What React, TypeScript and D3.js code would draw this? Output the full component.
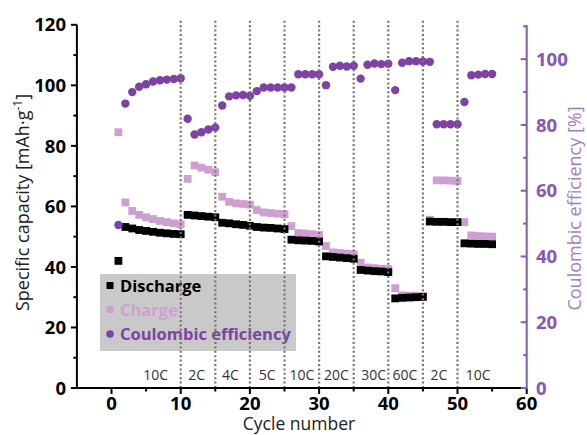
import React from 'react';
import * as d3 from 'd3';

const cycles = d3.range(1, 56);

const discharge = [
  42.0,
  53.2, 52.7, 52.2, 51.9, 51.6, 51.3, 51.1, 50.9, 50.8,
  57.2, 57.0, 56.8, 56.6, 56.4,
  54.6, 54.4, 54.1, 53.9, 53.6,
  53.2, 53.0, 52.9, 52.7, 52.5,
  49.0, 48.8, 48.7, 48.6, 48.4,
  43.5, 43.3, 43.1, 42.9, 42.7,
  39.0, 38.8, 38.6, 38.5, 38.3,
  29.6, 29.8, 29.9, 30.0, 30.1,
  55.0, 54.9, 54.9, 54.8, 54.8,
  47.8, 47.7, 47.6, 47.6, 47.5,
];

const charge = [
  84.5,
  61.3, 58.5, 57.2, 56.4, 55.8, 55.2, 54.8, 54.4, 54.1,
  69.1, 73.5, 72.8, 72.1, 71.3,
  63.2, 61.5, 61.0, 60.8, 60.6,
  58.8, 58.0, 57.8, 57.6, 57.4,
  53.5, 51.2, 51.0, 50.8, 50.6,
  46.9, 44.8, 44.6, 44.4, 44.2,
  41.4, 39.8, 39.6, 39.4, 39.3,
  33.0, 30.6, 30.5, 30.5, 30.4,
  55.6, 68.6, 68.6, 68.5, 68.4,
  54.8, 50.4, 50.2, 50.1, 50.0,
];

const efficiency = [
  49.6,
  86.5, 90.0, 91.6, 92.4, 93.2, 93.6, 93.8, 94.0, 94.2,
  81.9, 77.1, 77.8, 78.6, 79.2,
  85.9, 88.7, 89.0, 89.1, 88.9,
  90.3, 91.4, 91.4, 91.4, 91.4,
  91.4, 95.4, 95.4, 95.4, 95.4,
  92.1, 97.7, 98.0, 97.8, 98.0,
  94.1, 98.3, 98.7, 98.5, 98.6,
  90.6, 98.9, 99.4, 99.4, 99.3,
  99.2, 80.2, 80.2, 80.2, 80.2,
  87.0, 95.1, 95.3, 95.5, 95.5,
];

const rateBoundaries = [10, 15, 20, 25, 30, 35, 40, 45, 50];
const rateLabels = ['10C', '2C', '4C', '5C', '10C', '20C', '30C', '60C', '2C', '10C'];
const rateLabelAt = [6.4, 12.3, 17.2, 22.5, 27.5, 32.5, 37.9, 42.4, 47.3, 53.0];

const xTicks = [0, 10, 20, 30, 40, 50, 60];
const xMinor = [5, 15, 25, 35, 45, 55];
const yLeftTicks = [0, 20, 40, 60, 80, 100, 120];
const yLeftMinor = [10, 30, 50, 70, 90, 110];
const yRightTicks = [0, 20, 40, 60, 80, 100];
const yRightMinor = [10, 30, 50, 70, 90, 110];

const FONT = "'Open Sans', sans-serif";
const PINK = '#d09fd2';
const PURPLE = '#7e42a6';
const AXIS_PURPLE = '#8a55b8';

export default function App() {
  const width = 587;
  const height = 435;

  const x = d3.scaleLinear().domain([-5, 60]).range([76.9, 526.7]);
  const yL = d3.scaleLinear().domain([0, 120]).range([388, 24.8]);
  const yR = d3.scaleLinear().domain([0, 110.4]).range([388, 25]);

  const x0 = x(-5);
  const x1 = x(60);
  const yBase = yL(0);
  const sq = 7.8;

  return (
    <svg
      width={width}
      height={height}
      style={{ position: 'absolute', left: 0, top: 0, background: '#fff' }}
      fontFamily={FONT}
    >
      {/* charge squares */}
      <g fill={PINK}>
        {cycles.map((c, i) => (
          <rect key={i} x={x(c) - sq / 2} y={yL(charge[i]) - sq / 2} width={sq} height={sq} />
        ))}
      </g>
      {/* discharge squares */}
      <g fill="#000">
        {cycles.map((c, i) => (
          <rect key={i} x={x(c) - sq / 2} y={yL(discharge[i]) - sq / 2} width={sq} height={sq} />
        ))}
      </g>
      {/* coulombic efficiency */}
      <g fill={PURPLE}>
        {cycles.map((c, i) => (
          <circle key={i} cx={x(c)} cy={yR(efficiency[i])} r={4.2} />
        ))}
      </g>

      {/* legend */}
      <rect x={100} y={274} width={196} height={77} fill="#c9c9c9" />
      <g fontSize={16.5} fontWeight="bold">
        <rect x={106.5} y={282} width={7} height={7} fill="#000" />
        <text x={120} y={292} fill="#000">Discharge</text>
        <rect x={106.5} y={306} width={7} height={7} fill={PINK} />
        <text x={120} y={316} fill={PINK}>Charge</text>
        <circle cx={110} cy={334} r={3.8} fill={PURPLE} />
        <text x={120} y={339.5} fill={PURPLE}>Coulombic efficiency</text>
      </g>

      {/* rate boundaries */}
      <g stroke="#767676" strokeWidth={2.2} strokeDasharray="2,2.4">
        {rateBoundaries.map((b) => (
          <line key={b} x1={x(b)} x2={x(b)} y1={yBase} y2={20} />
        ))}
      </g>
      <g fontSize={14} fill="#333" textAnchor="middle">
        {rateLabels.map((r, i) => (
          <text key={i} x={x(rateLabelAt[i])} y={380}>{r}</text>
        ))}
      </g>

      {/* left axis */}
      <line x1={x0} x2={x0} y1={yBase + 1} y2={yL(120)} stroke="#000" strokeWidth={2} />
      {yLeftTicks.map((t) => (
        <line key={t} x1={x0 - 6} x2={x0} y1={yL(t)} y2={yL(t)} stroke="#000" strokeWidth={2} />
      ))}
      {yLeftMinor.map((t) => (
        <line key={t} x1={x0 - 3.5} x2={x0} y1={yL(t)} y2={yL(t)} stroke="#000" strokeWidth={2} />
      ))}
      <g fontSize={18.5} fontWeight="bold" textAnchor="end" fill="#000">
        {yLeftTicks.map((t) => (
          <text key={t} x={66} y={yL(t)} dy="0.36em">{t}</text>
        ))}
      </g>
      <text
        transform={`translate(28.5,${(315 + 90) / 2}) rotate(-90)`}
        textAnchor="middle"
        fontSize={18}
        fill="#222"
      >
        Specific capacity [mAh·g
        <tspan dy={-7} fontSize={12}>-1</tspan>
        <tspan dy={7}>]</tspan>
      </text>

      {/* bottom axis */}
      <line x1={x0 - 1} x2={x1} y1={yBase} y2={yBase} stroke="#000" strokeWidth={2} />
      {xTicks.map((t) => (
        <line key={t} x1={x(t)} x2={x(t)} y1={yBase} y2={yBase + 6} stroke="#000" strokeWidth={2} />
      ))}
      {xMinor.map((t) => (
        <line key={t} x1={x(t)} x2={x(t)} y1={yBase} y2={yBase + 3.5} stroke="#000" strokeWidth={2} />
      ))}
      <g fontSize={18.5} fontWeight="bold" textAnchor="middle" fill="#000">
        {xTicks.map((t) => (
          <text key={t} x={x(t)} y={409.5}>{t}</text>
        ))}
      </g>
      <text x={299} y={430} textAnchor="middle" fontSize={17.5} fill="#222">Cycle number</text>

      {/* right axis */}
      <line x1={x1} x2={x1} y1={yBase + 1} y2={yR(110.4)} stroke={AXIS_PURPLE} strokeWidth={2} />
      {yRightTicks.map((t) => (
        <line key={t} x1={x1 - 6} x2={x1} y1={yR(t)} y2={yR(t)} stroke={AXIS_PURPLE} strokeWidth={2} />
      ))}
      {yRightMinor.map((t) => (
        <line key={t} x1={x1 - 3.5} x2={x1} y1={yR(t)} y2={yR(t)} stroke={AXIS_PURPLE} strokeWidth={2} />
      ))}
      <g fontSize={18.5} fontWeight="bold" textAnchor="start" fill={AXIS_PURPLE}>
        {yRightTicks.map((t) => (
          <text key={t} x={536} y={yR(t)} dy="0.36em">{t}</text>
        ))}
      </g>
      <text
        transform={`translate(581,${(317 + 100) / 2}) rotate(-90)`}
        textAnchor="middle"
        fontSize={18}
        fill="#a57ccc"
      >
        Coulombic efficiency [%]
      </text>
    </svg>
  );
}
